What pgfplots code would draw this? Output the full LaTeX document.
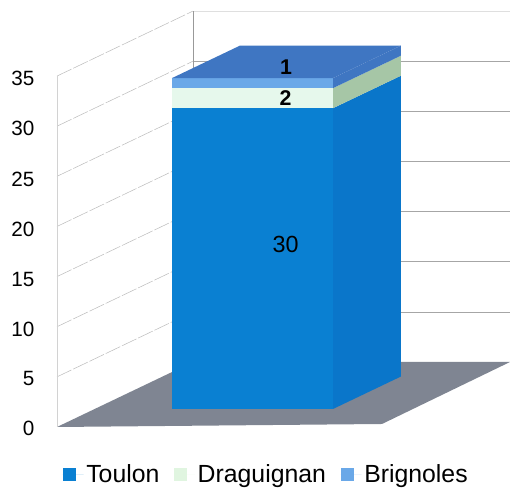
\documentclass[border=0pt]{standalone}
\usepackage{pgfplots}
\pgfplotsset{compat=1.18}
\usepackage{fontspec}
\setmainfont{Liberation Sans}
\definecolor{floorc}{HTML}{7F8592}
\definecolor{barfront}{HTML}{0A80D2}
\definecolor{barside}{HTML}{0A76CA}
\definecolor{bargreen}{HTML}{E6F8EC}
\definecolor{sidegreen}{HTML}{A6C6A6}
\definecolor{topc}{HTML}{3F76C2}
\definecolor{bandc}{HTML}{6AA8E8}
\definecolor{legblue}{HTML}{0A80D2}
\definecolor{leggreen}{HTML}{E0F5E0}
\definecolor{wallgrid}{HTML}{BDBDBD}
\begin{document}
\begin{tikzpicture}
\useasboundingbox (0,0) rectangle (382.5pt,366pt);
\begin{axis}[
  at={(42.75pt,45.75pt)},anchor=origin,
  x={(0.75pt,0pt)},y={(102pt,48.75pt)},z={(0pt,7.52pt)},
  xmin=0,xmax=325,ymin=0,ymax=1,zmin=0,zmax=35,
  xtick=\empty,ytick=\empty,ztick={0,5,...,35},
  zticklabel pos=left,
  axis line style={draw=none},
  major tick length=0pt,
  ticklabel style={font=\fontsize{15.5}{18}\selectfont,xshift=-13.5pt,yshift=0.8pt},
  /pgf/number format/assume math mode=true,
  clip=false,
  no markers,
  legend columns=3,
  legend style={draw=none,fill=none,at={(0.003,-0.115)},anchor=west,
    font=\fontsize{18.6}{21}\selectfont,
    /tikz/every even column/.append style={column sep=9pt}},
  legend image code/.code={\fill[#1] (0pt,-5pt) rectangle (10pt,5pt);\path (0pt,0pt) -- (15.75pt,0pt);},
]
% floor
\addplot3[fill=floorc,draw=none,forget plot] coordinates {(0,0,0)(325,0,0.3)(317,1,0)(0,1,0)};
% left wall grid
\addplot3[wallgrid,dash pattern=on 12pt off 1.5pt,line width=0.4pt,forget plot] coordinates {(0,0,5)(0,1,5)};
\addplot3[wallgrid,dash pattern=on 12pt off 1.5pt,line width=0.4pt,forget plot] coordinates {(0,0,10)(0,1,10)};
\addplot3[wallgrid,dash pattern=on 12pt off 1.5pt,line width=0.4pt,forget plot] coordinates {(0,0,15)(0,1,15)};
\addplot3[wallgrid,dash pattern=on 12pt off 1.5pt,line width=0.4pt,forget plot] coordinates {(0,0,20)(0,1,20)};
\addplot3[wallgrid,dash pattern=on 12pt off 1.5pt,line width=0.4pt,forget plot] coordinates {(0,0,25)(0,1,25)};
\addplot3[wallgrid,dash pattern=on 12pt off 1.5pt,line width=0.4pt,forget plot] coordinates {(0,0,30)(0,1,30)};
\addplot3[wallgrid,dash pattern=on 12pt off 1.5pt,line width=0.4pt,forget plot] coordinates {(0,0,35)(0,1,35)};
\addplot3[gray!35,line width=0.4pt,forget plot] coordinates {(0,0,0)(0,0,35)};
% back wall grid
\addplot3[gray!70,line width=0.5pt,forget plot] coordinates {(0,1,5)(317,1,5)};
\addplot3[gray!70,line width=0.5pt,forget plot] coordinates {(0,1,10)(317,1,10)};
\addplot3[gray!70,line width=0.5pt,forget plot] coordinates {(0,1,15)(317,1,15)};
\addplot3[gray!70,line width=0.5pt,forget plot] coordinates {(0,1,20)(317,1,20)};
\addplot3[gray!70,line width=0.5pt,forget plot] coordinates {(0,1,25)(317,1,25)};
\addplot3[gray!70,line width=0.5pt,forget plot] coordinates {(0,1,30)(317,1,30)};
\addplot3[gray!25,line width=0.5pt,forget plot] coordinates {(0,1,35)(317,1,35)};
\addplot3[gray!80,line width=0.5pt,forget plot] coordinates {(0,1,0)(0,1,35)};
% bar: Toulon 30, Draguignan 2, Brignoles 1 (stacked)
\addplot3[fill=barside,draw=none,forget plot] coordinates {(238.3,0.277,0)(238.3,0.777,0)(238.3,0.777,30)(238.3,0.277,30)};
\addplot3[fill=barfront,draw=none,forget plot] coordinates {(77.3,0.277,0)(238.3,0.277,0)(238.3,0.277,30)(77.3,0.277,30)};
\addplot3[fill=sidegreen,draw=none,forget plot] coordinates {(238.3,0.277,30)(238.3,0.777,30)(238.3,0.777,32)(238.3,0.277,32)};
\addplot3[fill=bargreen,draw=none,forget plot] coordinates {(77.3,0.277,30)(238.3,0.277,30)(238.3,0.277,32)(77.3,0.277,32)};
\addplot3[fill=topc,draw=none,forget plot] coordinates {(238.3,0.277,32)(238.3,0.777,32)(238.3,0.777,33)(238.3,0.277,33)};
\addplot3[fill=bandc,draw=none,forget plot] coordinates {(77.3,0.277,32)(238.3,0.277,32)(238.3,0.277,33)(77.3,0.277,33)};
\addplot3[fill=topc,draw=none,forget plot] coordinates {(77.3,0.277,33)(238.3,0.277,33)(238.3,0.777,33)(77.3,0.777,33)};
% legend
\addlegendimage{fill=legblue,draw=none}\addlegendentry{Toulon}
\addlegendimage{fill=leggreen,draw=none}\addlegendentry{Draguignan}
\addlegendimage{fill=bandc,draw=none}\addlegendentry{Brignoles}
% value labels
\node[font=\fontsize{17.5}{20}\selectfont] at (axis cs:191,0.277,16.4) {30};
\node[font=\fontsize{16}{18}\selectfont\bfseries] at (axis cs:191,0.277,31) {2};
\node[font=\fontsize{16}{18}\selectfont\bfseries] at (axis cs:161,0.5,32.65) {1};
\end{axis}
\end{tikzpicture}
\end{document}
